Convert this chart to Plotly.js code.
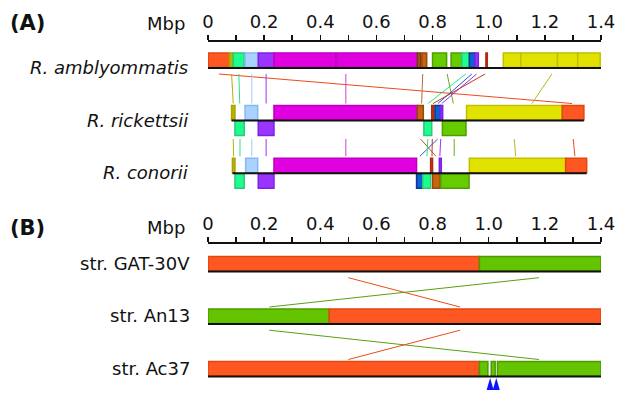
<!DOCTYPE html>
<html><head><meta charset="utf-8">
<script src="https://cdn.plot.ly/plotly-3.0.1.min.js"></script>
<style>html,body{margin:0;padding:0;background:#fff}#chart{width:617px;height:395px}</style>
</head><body><div id="chart"></div>
<script>
// ---------------- DATA ----------------
const tickValues = [0,0.1,0.2,0.3,0.4,0.5,0.6,0.7,0.8,0.9,1.0,1.1,1.2,1.3,1.4];
const tickLabels = ['0','','0.2','','0.4','','0.6','','0.8','','1.0','','1.2','','1.4'];
const axisUnit = 'Mbp';
const panelLetters = ['(A)','(B)'];

const namesA = ['R. amblyommatis','R. rickettsii','R. conorii'];
const namesB = ['str. GAT-30V','str. An13','str. Ac37'];

// genome extents (Mbp) drawn as the black chromosome line
const spanStartA = [0, 0.084, 0.087];
const spanEndA   = [1.4, 1.339, 1.349];
const spanStartB = [0, 0, 0];
const spanEndB   = [1.4, 1.4, 1.4];

// R. amblyommatis blocks
const ambStart  = [0.001,0.076,0.090,0.132,0.179,0.235,0.459,0.746,0.762,0.800,0.866,0.904,0.931,0.951,0.990,1.052,1.114,1.245,1.317];
const ambEnd    = [0.076,0.090,0.129,0.179,0.235,0.455,0.746,0.758,0.779,0.850,0.904,0.931,0.951,0.963,0.995,1.114,1.245,1.317,1.397];
const ambGroup  = ['or','ol','sg','lb','pu','mg','mg','db','br','li','li','sg','bl','pu','rd','ye','ye','ye','ye'];
const ambStrand = [1,1,1,1,1,1,1,1,1,1,1,1,1,1,1,1,1,1,1];

// R. rickettsii blocks
const rickStart  = [0.084,0.132,0.235,0.746,0.797,0.809,0.829,0.921,1.262,0.096,0.179,0.769,0.835];
const rickEnd    = [0.096,0.177,0.746,0.767,0.805,0.829,0.836,1.262,1.339,0.129,0.235,0.797,0.919];
const rickGroup  = ['ol','lb','mg','br','rd','bl','pu','ye','or','sg','pu','sg','li'];
const rickStrand = [1,1,1,1,1,1,1,1,1,-1,-1,-1,-1];

// R. conorii blocks
const conStart  = [0.087,0.134,0.235,0.793,0.824,0.931,1.274,0.096,0.179,0.743,0.765,0.800,0.829];
const conEnd    = [0.096,0.177,0.743,0.800,0.831,1.274,1.349,0.129,0.235,0.765,0.793,0.827,0.930];
const conGroup  = ['ol','lb','mg','rd','pu','ye','or','sg','pu','bl','sg','br','li'];
const conStrand = [1,1,1,1,1,1,1,-1,-1,-1,-1,-1,-1];

// links amblyommatis -> rickettsii
const linkA1Top   = [0.039,0.084,0.110,0.156,0.207,0.491,0.765,0.852,0.918,0.940,0.957,0.987,1.225];
const linkA1Bot   = [1.297,0.090,0.113,0.156,0.207,0.491,0.761,0.874,0.784,0.819,0.833,0.802,1.154];
const linkA1Group = ['or','ol','sg','lb','pu','mg','db','li','sg','bl','pu','rd','ye'];
// links rickettsii -> conorii
const linkA2Top   = [0.090,0.114,0.156,0.207,0.491,0.818,0.757,0.783,0.799,0.829,0.877,1.091,1.301];
const linkA2Bot   = [0.091,0.114,0.156,0.207,0.491,0.755,0.812,0.780,0.798,0.826,0.877,1.096,1.307];
const linkA2Group = ['ol','sg','lb','pu','mg','bl','br','sg','rd','pu','li','ye','or'];

// Panel B blocks
const gatStart = [0, 0.967];
const gatEnd   = [0.967, 1.4];
const gatGroup = ['or','gr'];
const anStart  = [0, 0.432];
const anEnd    = [0.432, 1.4];
const anGroup  = ['gr','or'];
const acStart  = [0, 0.967, 1.009, 1.031];
const acEnd    = [0.967, 0.997, 1.023, 1.4];
const acGroup  = ['or','gr','gr','gr'];
// Panel B links
const linkB1Top = [0.500, 1.179], linkB1Bot = [0.898, 0.218], linkB1Group = ['or','gr'];
const linkB2Top = [0.218, 0.898], linkB2Bot = [1.179, 0.500], linkB2Group = ['gr','or'];
// arrowheads under str. Ac37
const markerPos = [1.005, 1.027];

// ---------------- STYLE ----------------
const fill = {or:'#ff5722', ol:'#b8b400', sg:'#1cff8e', lb:'#a9d2ff', pu:'#9a35ff', mg:'#e000e0',
  db:'#a0521a', br:'#c8640f', li:'#66cc00', bl:'#1060d8', rd:'#c8381a', ye:'#e2e200', gr:'#64c400'};
const edge = {or:'#e2470f', ol:'#a8a400', sg:'#2cc878', lb:'#86b9f0', pu:'#7d22e0', mg:'#c000c0',
  db:'#7a3a10', br:'#98480a', li:'#4e9e00', bl:'#0a3a8c', rd:'#b02a10', ye:'#c0c000', gr:'#4c9a00'};
const linkCol = {or:'#ee4a1a', ol:'#b8b000', sg:'#30e080', lb:'#a0c8f8', pu:'#9a35ff', mg:'#d040d0',
  db:'#b07040', br:'#b86020', li:'#6aaa20', bl:'#2a5ad0', rd:'#c03a20', ye:'#b8b820', gr:'#5aa010'};

const W = 617, H = 395;
const FONT = 'DejaVu Sans, Liberation Sans, Arial, sans-serif';
const blockH = 14.5;
const baseA = [67.5, 120, 172.7];
const baseB = [271, 323.5, 376];
const rulerA = 41, rulerB = 243;

const shapes = [];
function addBlocks(starts, ends, groups, strands, base){
  for (let i=0;i<starts.length;i++){
    const s = strands ? strands[i] : 1;
    shapes.push({type:'rect', xref:'x', yref:'y', x0:starts[i], x1:ends[i],
      y0: s>0 ? base-blockH : base+1, y1: s>0 ? base : base+1+blockH,
      fillcolor: fill[groups[i]], line:{color: edge[groups[i]], width:1.5}});
  }
}
function addLinks(tops, bots, groups, yTop, yBot){
  for (let i=0;i<tops.length;i++){
    shapes.push({type:'line', xref:'x', yref:'y', x0:tops[i], x1:bots[i], y0:yTop, y1:yBot,
      line:{color: linkCol[groups[i]], width:1}});
  }
}
function addBase(x0, x1, y){
  shapes.push({type:'line', xref:'x', yref:'y', x0:x0, x1:x1, y0:y+0.5, y1:y+0.5, line:{color:'#111', width:2}});
}

addBlocks(ambStart, ambEnd, ambGroup, ambStrand, baseA[0]);
addBlocks(rickStart, rickEnd, rickGroup, rickStrand, baseA[1]);
addBlocks(conStart, conEnd, conGroup, conStrand, baseA[2]);
addLinks(linkA1Top, linkA1Bot, linkA1Group, baseA[0]+6.5, baseA[1]-blockH-2);
addLinks(linkA2Top, linkA2Bot, linkA2Group, baseA[1]+blockH+4.5, baseA[2]-blockH-2);
for (let r=0;r<3;r++) addBase(spanStartA[r], spanEndA[r], baseA[r]);

addBlocks(gatStart, gatEnd, gatGroup, null, baseB[0]);
addBlocks(anStart, anEnd, anGroup, null, baseB[1]);
addBlocks(acStart, acEnd, acGroup, null, baseB[2]);
addLinks(linkB1Top, linkB1Bot, linkB1Group, baseB[0]+6.7, baseB[1]-blockH-2);
addLinks(linkB2Top, linkB2Bot, linkB2Group, baseB[1]+6.7, baseB[2]-blockH-2);
for (let r=0;r<3;r++) addBase(spanStartB[r], spanEndB[r], baseB[r]);

const halfW = 0.0125;
markerPos.forEach(p=>{
  shapes.push({type:'path', xref:'x', yref:'y',
    path:`M ${p-halfW},390 L ${p},378 L ${p+halfW},390 Z`, fillcolor:'#0a14ff', line:{width:0}});
});

const annotations = [];
function label(text, xr, y, size, opts){
  annotations.push(Object.assign({text:text, xref:'paper', yref:'y', x:xr/W, y:y, xanchor:'right', yanchor:'middle',
    showarrow:false, font:{family:FONT, size:size, color:'#111'}}, opts||{}));
}
label('<b>'+panelLetters[0]+'</b>', 8, 23, 21, {xanchor:'left'});
label('<b>'+panelLetters[1]+'</b>', 8, 228, 21, {xanchor:'left'});
label(axisUnit, 187, 23, 18);
label(axisUnit, 187, 227, 18);
namesA.forEach((n,i)=>label('<i>'+n+'</i>', 190, baseA[i], 18));
namesB.forEach((n,i)=>label(n, 192, baseB[i]-8, 18));

const axisCommon = {range:[0,1.4], domain:[208/W, 601/W], side:'top', anchor:'free',
  tickmode:'array', tickvals:tickValues, ticktext:tickLabels, ticks:'outside', ticklen:5, tickwidth:1.5,
  tickcolor:'#111', showline:true, linecolor:'#111', linewidth:2, showgrid:false, zeroline:false,
  tickfont:{family:FONT, size:18, color:'#111'}, automargin:false, fixedrange:true};

const layout = {
  width:W, height:H, margin:{l:0,r:0,t:0,b:0}, paper_bgcolor:'#fff', plot_bgcolor:'rgba(0,0,0,0)',
  showlegend:false,
  xaxis: Object.assign({}, axisCommon, {position: 1 - rulerA/H}),
  xaxis2: Object.assign({}, axisCommon, {position: 1 - rulerB/H, overlaying:'x'}),
  yaxis: {range:[H,0], domain:[0,1], visible:false, fixedrange:true},
  shapes: shapes, annotations: annotations
};
const traces = [
  {x:[0], y:[-50], xaxis:'x', yaxis:'y', mode:'markers', marker:{opacity:0}, hoverinfo:'skip'},
  {x:[0], y:[-50], xaxis:'x2', yaxis:'y', mode:'markers', marker:{opacity:0}, hoverinfo:'skip'}
];
Plotly.newPlot('chart', traces, layout, {staticPlot:true, displayModeBar:false});
</script></body></html>
